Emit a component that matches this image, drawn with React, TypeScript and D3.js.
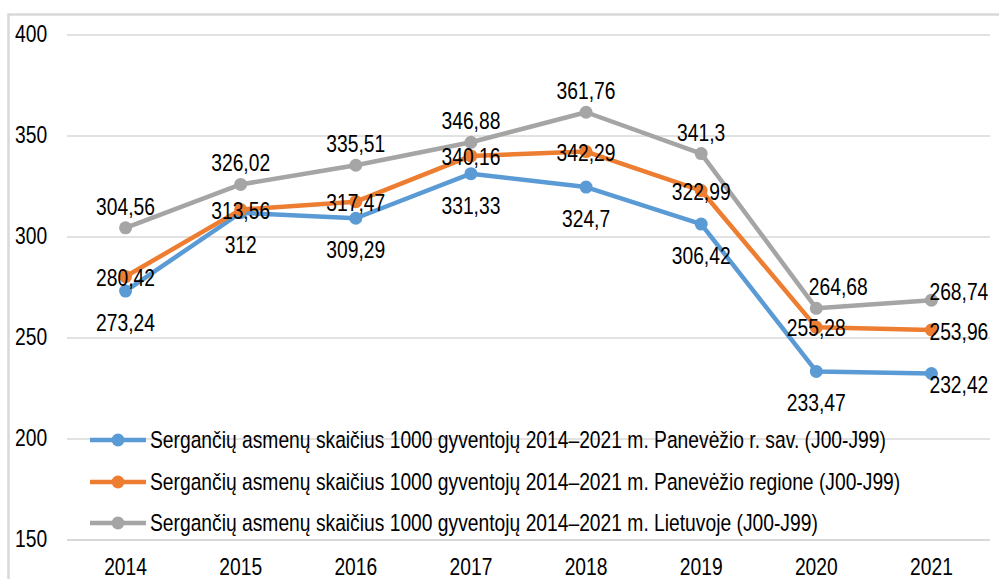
import React, { useRef, useEffect } from 'react';
import * as d3 from 'd3';

const years = ['2014', '2015', '2016', '2017', '2018', '2019', '2020', '2021'];
const rajonas = [273.24, 312, 309.29, 331.33, 324.7, 306.42, 233.47, 232.42];
const regionas = [280.42, 313.56, 317.47, 340.16, 342.29, 322.99, 255.28, 253.96];
const lietuva = [304.56, 326.02, 335.51, 346.88, 361.76, 341.3, 264.68, 268.74];
const yTicks = [150, 200, 250, 300, 350, 400];
const seriesNames = [
  'Sergančių asmenų skaičius 1000 gyventojų 2014–2021 m. Panevėžio r. sav. (J00-J99)',
  'Sergančių asmenų skaičius 1000 gyventojų 2014–2021 m. Panevėžio regione (J00-J99)',
  'Sergančių asmenų skaičius 1000 gyventojų 2014–2021 m. Lietuvoje (J00-J99)',
];

const WIDTH = 999;
const HEIGHT = 579;
// no Arial Narrow available, so squeeze Liberation Sans horizontally
const FONT = "'Liberation Sans', Arial, sans-serif";
const SQUEEZE = 0.82;
const at = (px: number, py: number) => `translate(${px},${py}) scale(${SQUEEZE},1)`;

const App = () => {
  const svgRef = useRef<SVGSVGElement>(null);

  useEffect(() => {
    const svg = d3.select(svgRef.current);
    svg.selectAll('*').remove();

    // chart frame
    svg.append('rect')
      .attr('x', 8.5).attr('y', 14.5)
      .attr('width', 1000).attr('height', 600)
      .attr('fill', 'white')
      .attr('stroke', '#d9d9d9')
      .attr('stroke-width', 2.5);

    const x = d3.scaleBand().domain(years).range([68, 989]);
    const cx = (d: string) => (x(d) as number) + x.bandwidth() / 2;
    const y = d3.scaleLinear().domain([150, 400]).range([540, 35]);

    // gridlines
    svg.append('g')
      .selectAll('line')
      .data(yTicks)
      .join('line')
      .attr('x1', 67).attr('x2', 990)
      .attr('y1', d => y(d)).attr('y2', d => y(d))
      .attr('stroke', '#d9d9d9')
      .attr('stroke-width', d => (d === 150 ? 2 : 1.3));

    // y tick labels
    svg.append('g')
      .selectAll('text')
      .data(yTicks)
      .join('text')
      .attr('transform', d => at(15, y(d) + 7))
      .attr('font-family', FONT)
      .attr('font-size', 23.5)
      .attr('fill', '#000')
      .text(d => d);

    // x labels
    svg.append('g')
      .selectAll('text')
      .data(years)
      .join('text')
      .attr('transform', d => at(cx(d), 575))
      .attr('text-anchor', 'middle')
      .attr('font-family', FONT)
      .attr('font-size', 23.5)
      .attr('fill', '#000')
      .text(d => d);

    // label placement per series: default offset, plus tweaks for crowded points
    const series = [
      { values: rajonas, color: '#5b9bd5', dy: 40, lastDy: 19, shift: [0, 0, 0, 0, 0, 0, 0, 0] },
      { values: regionas, color: '#ed7d31', dy: 9, lastDy: 10, shift: [0, 0, 0, 0, 0, 0, 0, 0] },
      { values: lietuva, color: '#a5a5a5', dy: -13, lastDy: 0, shift: [0, 0, 0, 0, 0, 0, 22, 0] },
    ];

    const line = d3.line<number>()
      .x((d, i) => cx(years[i]))
      .y(d => y(d));

    series.forEach(s => {
      svg.append('path')
        .datum(s.values)
        .attr('fill', 'none')
        .attr('stroke', s.color)
        .attr('stroke-width', 4.5)
        .attr('stroke-linejoin', 'round')
        .attr('d', line);

      svg.append('g')
        .selectAll('circle')
        .data(s.values)
        .join('circle')
        .attr('cx', (d, i) => cx(years[i]))
        .attr('cy', d => y(d))
        .attr('r', 6.5)
        .attr('fill', s.color);
    });

    // data labels on top
    const last = years.length - 1;
    series.forEach(s => {
      svg.append('g')
        .selectAll('text')
        .data(s.values)
        .join('text')
        .attr('transform', (d, i) => at(
          i === last ? cx(years[i]) - 2 : cx(years[i]) + s.shift[i],
          y(d) + (i === last ? s.lastDy : s.dy),
        ))
        .attr('text-anchor', (d, i) => (i === last ? 'start' : 'middle'))
        .attr('font-family', FONT)
        .attr('font-size', 23.5)
        .attr('fill', '#000')
        .text(d => String(d).replace('.', ','));
    });

    // legend
    const legendRows = [440, 482, 523];
    series.forEach((s, i) => {
      const g = svg.append('g').attr('transform', `translate(0,${legendRows[i]})`);
      g.append('line')
        .attr('x1', 90).attr('x2', 146)
        .attr('stroke', s.color)
        .attr('stroke-width', 4.5);
      g.append('circle')
        .attr('cx', 118).attr('r', 6.5)
        .attr('fill', s.color);
      g.append('text')
        .attr('transform', at(150, 8))
        .attr('font-family', FONT)
        .attr('font-size', 23.5)
        .attr('fill', '#000')
        .text(seriesNames[i]);
    });
  }, []);

  return (
    <svg
      ref={svgRef}
      width={WIDTH}
      height={HEIGHT}
      style={{ position: 'absolute', left: 0, top: 0, background: 'white' }}
    />
  );
};

export default App;
